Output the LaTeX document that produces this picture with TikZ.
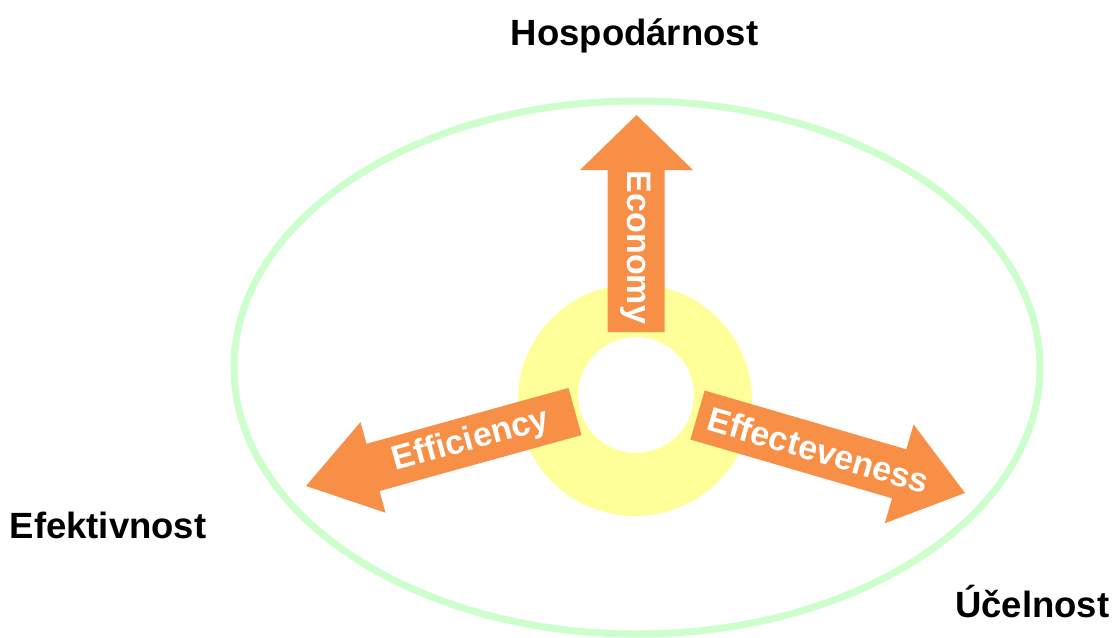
\documentclass[tikz,border=0pt]{standalone}
\usepackage{fontspec}
\setmainfont{Liberation Sans}
\definecolor{ringgreen}{RGB}{204,255,204}
\definecolor{ringyellow}{RGB}{255,255,153}
\definecolor{arroworange}{RGB}{248,143,70}
\tikzset{
  outerring/.style={draw=ringgreen, line width=7pt},
  hub/.style={fill=ringyellow, even odd rule},
  bigarrow/.style={fill=arroworange, draw=none},
  arrowtext/.style={text=white, font=\bfseries\fontsize{34}{36}\selectfont, inner sep=0pt},
  corner/.style={font=\bfseries\fontsize{36.5}{39}\selectfont, inner sep=0pt}
}
\begin{document}
\begin{tikzpicture}[x=1pt, y=-1pt]
\useasboundingbox (0,0) rectangle (1116,637);
% outer ellipse
\draw[outerring] (637,367.5) ellipse [x radius=403, y radius=266.5];
% yellow hub ring
\fill[hub] (635,400) ellipse [x radius=117, y radius=116] (636,395) circle [radius=58];
% Economy arrow
\coordinate (ecoS) at (636,332);
\coordinate (ecoT) at (636.5,115);
\fill[bigarrow] (607.5,332) -- (607.5,170) -- (580,170) -- (ecoT) -- (693,170) -- (664.5,170) -- (664.5,332) -- cycle;
\node[arrowtext, rotate=-90] (eco) at (636,247.5) {Economy};
% Efficiency arrow
\coordinate (effS) at (575,411.5);
\coordinate (effT) at (306,486);
\fill[bigarrow] (581.5,435.1) -- (379.5,491.0) -- (385.5,512.7) -- (effT) -- (360.5,422.1) -- (366.5,443.8) -- (568.5,387.9) -- cycle;
\node[arrowtext, rotate=15.5] (eff) at (471,441) {Efficiency};
% Effecteveness arrow
\coordinate (efcS) at (697.5,415);
\coordinate (efcT) at (965,493);
\fill[bigarrow] (704.6,390.5) -- (906.3,449.3) -- (913.6,424.4) -- (efcT) -- (884.8,523.2) -- (892.1,498.3) -- (690.4,439.5) -- cycle;
\node[arrowtext, rotate=-16.3] (efc) at (818.5,450) {Effecteveness};
% labels
\node[corner, anchor=base] (hosp) at (634.5,45) {Hospodárnost};
\node[corner, anchor=base west] (efek) at (9.5,538) {Efektivnost};
\node[corner, anchor=base west] (ucel) at (955,617) {Účelnost};
\end{tikzpicture}
\end{document}
